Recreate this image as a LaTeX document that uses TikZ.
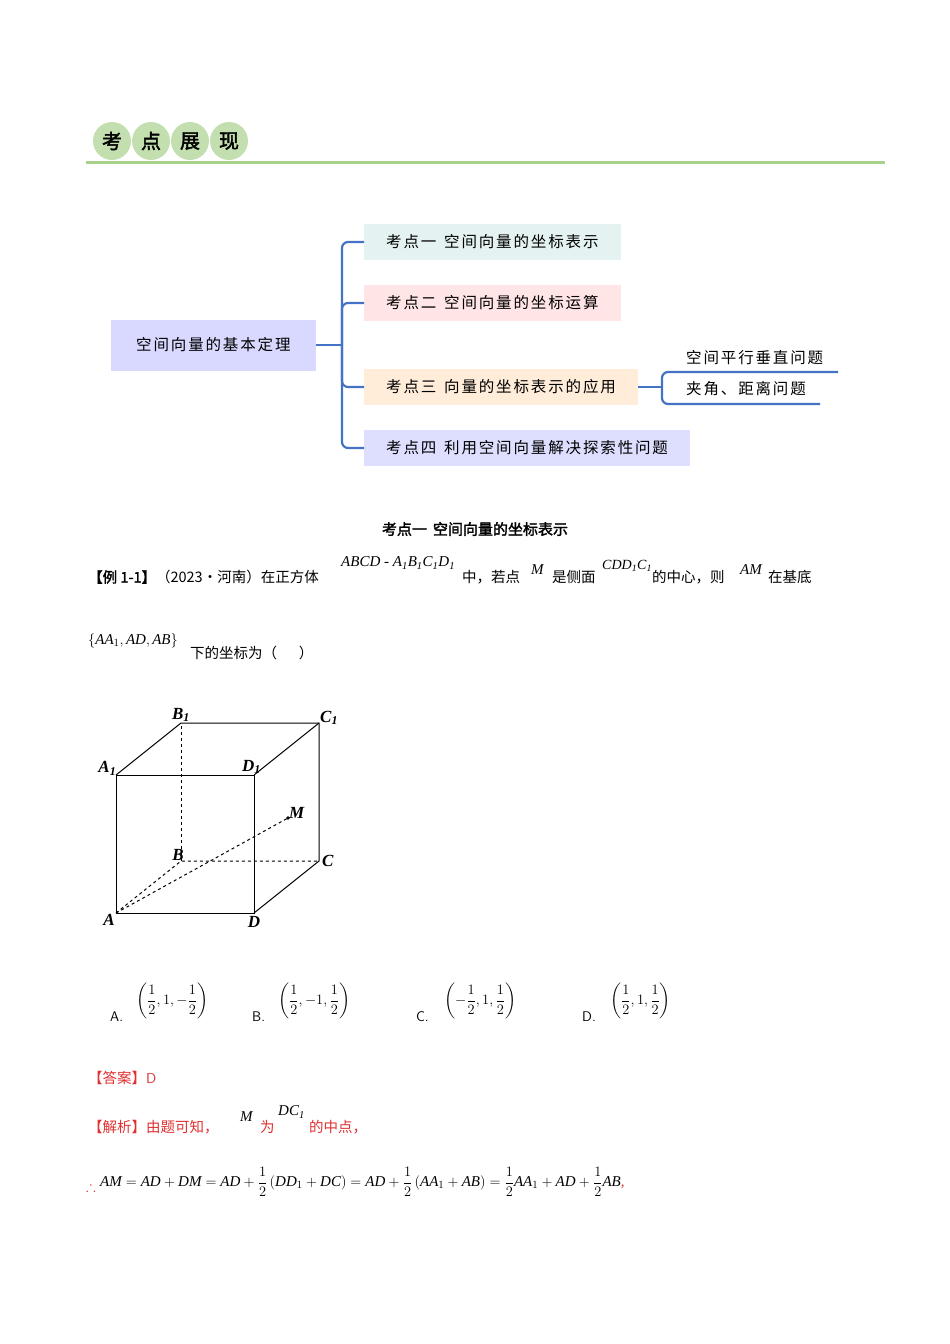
\documentclass[tikz,border=0pt]{standalone}
\usepackage{amssymb}
\usepackage{fontspec}
\setmainfont{Liberation Serif}
\newfontfamily\cjk{Noto Sans CJK SC}
\newfontfamily\cjkw[LetterSpace=12]{Noto Sans CJK SC}
\newfontfamily\cjkb[FakeBold=2]{Noto Sans CJK SC}
\usetikzlibrary{positioning}
\definecolor{branch}{HTML}{4472C4}
\definecolor{headgreen}{HTML}{A9D18E}
\definecolor{ansred}{HTML}{E03030}
\tikzset{
  topic/.style={rectangle, minimum height=36pt, inner xsep=22pt, font=\fontsize{15.5}{15.5}\selectfont\cjkw, anchor=west},
  link/.style={draw=branch, line width=2.2pt, rounded corners=6pt},
  edge/.style={draw, line width=1pt},
  hidden/.style={edge, dashed},
  vx/.style={font=\fontsize{17}{17}\selectfont\bfseries\itshape, inner sep=1pt},
  body/.style={font=\fontsize{14.5}{14.5}\selectfont\cjk, anchor=west, inner sep=0pt},
  mth/.style={font=\fontsize{15}{15}\selectfont\itshape, anchor=west, inner sep=0pt}
}
\begin{document}
\begin{tikzpicture}[x=1pt, y=-1pt]
\useasboundingbox (0,0) rectangle (950,1344);
% header
\foreach \t [count=\i] in {考,点,展,现}
  \node [circle, fill=headgreen!70, minimum size=38pt, font=\fontsize{20}{20}\selectfont\cjkb] (h\i) at (73+\i*39,141) {\t};
\draw [headgreen, line width=3pt] (86,162) -- (885,162);

% mind map
\node [topic, fill=blue!15, minimum height=51pt, inner xsep=25pt] (root) at (111,345) {空间向量的基本定理};
\node [topic, fill=teal!10] (k1) at (364,242) {考点一\hspace{0.5em}空间向量的坐标表示};
\node [topic, fill=red!10] (k2) at (364,303) {考点二\hspace{0.5em}空间向量的坐标运算};
\node [topic, fill=orange!15] (k3) at (364,387) {考点三\hspace{0.5em}向量的坐标表示的应用};
\node [topic, fill=blue!13] (k4) at (364,448) {考点四\hspace{0.5em}利用空间向量解决探索性问题};
\coordinate (fork) at (342,345);
\path [link] (root.east) -- (fork);
\path [link] (k1.west) -| (fork) |- (k4.west);
\path [link] (k2.west) -| (fork) |- (k3.west);
\node [body, font=\fontsize{15.5}{15.5}\selectfont\cjkw] (s1) at (686,358) {空间平行垂直问题};
\node [body, font=\fontsize{15.5}{15.5}\selectfont\cjkw] (s2) at (686,389) {夹角、距离问题};
\coordinate (sfork) at (662,387);
\path [link] (k3.east) -- (sfork);
\path [link] (838,372) -| (sfork) |- (820,404);

% example text
\node [font=\fontsize{15}{15}\selectfont\cjkb] (title) at (475,529) {考点一\hspace{0.4em}空间向量的坐标表示};
\node [body] (ex) at (88,577) {{\cjkb【例 1-1】}（2023·河南）在正方体};
\node [mth] (q1) at (341,563) {ABCD - A\textsubscript{1}B\textsubscript{1}C\textsubscript{1}D\textsubscript{1}};
\node [body] (q2) at (462,577) {中，若点};
\node [mth] (q3) at (531,570) {M};
\node [body] (q4) at (552,577) {是侧面};
\node [mth, font=\fontsize{14}{14}\selectfont\itshape] (q5) at (602,566) {CDD\textsubscript{1}C\textsubscript{1}};
\node [body] (q6) at (652,577) {的中心，则};
\node [mth] (q7) at (740,570) {AM};
\node [body] (q8) at (768,577) {在基底};
\node [mth] (q9) at (88,641) {$\left\{\textit{AA}_1, \textit{AD}, \textit{AB}\right\}$};
\node [body] (q10) at (190,653) {下的坐标为（\hspace{1.5em}）};

% cube
\coordinate (A) at (116,913); \coordinate (D) at (254,913);
\coordinate (D1) at (254,775); \coordinate (A1) at (116,775);
\coordinate (B) at (181,861); \coordinate (C) at (319,861);
\coordinate (C1) at (319,723); \coordinate (B1) at (181,723);
\coordinate (M) at (288,818);
\draw [edge] (A) -- (D) -- (D1) -- (A1) -- cycle;
\draw [edge] (D) -- (C) -- (C1) -- (B1) -- (A1);
\draw [edge] (D1) -- (C1);
\draw [hidden] (A) -- (B) -- (C);
\draw [hidden] (B) -- (B1);
\draw [hidden] (A) -- (M);
\fill (M) circle (1.8pt);
\node [vx, below left=0pt of A] {A};
\node [vx, below=2pt of D] {D};
\node [vx, above left=-1pt and -4pt of B] {B};
\node [vx, right=2pt of C] {C};
\node [vx, above left=-2pt of A1] {A\textsubscript{1}};
\node [vx, above=0pt of B1] {B\textsubscript{1}};
\node [vx, above right=-3pt and 0pt of C1] {C\textsubscript{1}};
\node [vx, above left=0pt and -8pt of D1] {D\textsubscript{1}};
\node [vx, above right=-2pt and 0pt of M] {M};

% choices
\node [body, font=\fontsize{14}{14}\selectfont\sffamily] (ca) at (110,1017) {A.};
\node [mth] (va) at (136,1001) {$\displaystyle\left(\frac{1}{2},1,-\frac{1}{2}\right)$};
\node [body, font=\fontsize{14}{14}\selectfont\sffamily] (cb) at (252,1017) {B.};
\node [mth] (vb) at (278,1001) {$\displaystyle\left(\frac{1}{2},-1,\frac{1}{2}\right)$};
\node [body, font=\fontsize{14}{14}\selectfont\sffamily] (cc) at (416,1017) {C.};
\node [mth] (vc) at (444,1001) {$\displaystyle\left(-\frac{1}{2},1,\frac{1}{2}\right)$};
\node [body, font=\fontsize{14}{14}\selectfont\sffamily] (cd) at (582,1017) {D.};
\node [mth] (vd) at (610,1001) {$\displaystyle\left(\frac{1}{2},1,\frac{1}{2}\right)$};

% answer
\node [body, text=ansred] (ans) at (88,1078) {【答案】{\sffamily D}};
\node [body, text=ansred] (sol) at (88,1127) {【解析】由题可知，};
\node [mth] (s1m) at (240,1117) {M};
\node [body, text=ansred] (s2m) at (260,1127) {为};
\node [mth] (s3m) at (278,1112) {DC\textsubscript{1}};
\node [body, text=ansred] (s4m) at (309,1127) {的中点，};
\node [body, text=ansred] (there) at (86,1186) {$\therefore$};
\node [mth] (eq) at (100,1182) {$\displaystyle\mathit{AM}=\mathit{AD}+\mathit{DM}=\mathit{AD}+\frac{1}{2}\left(\mathit{DD}_1+\mathit{DC}\right)=\mathit{AD}+\frac{1}{2}\left(\mathit{AA}_1+\mathit{AB}\right)=\frac{1}{2}\mathit{AA}_1+\mathit{AD}+\frac{1}{2}\mathit{AB}$\textcolor{ansred}{,}};
\end{tikzpicture}
\end{document}
